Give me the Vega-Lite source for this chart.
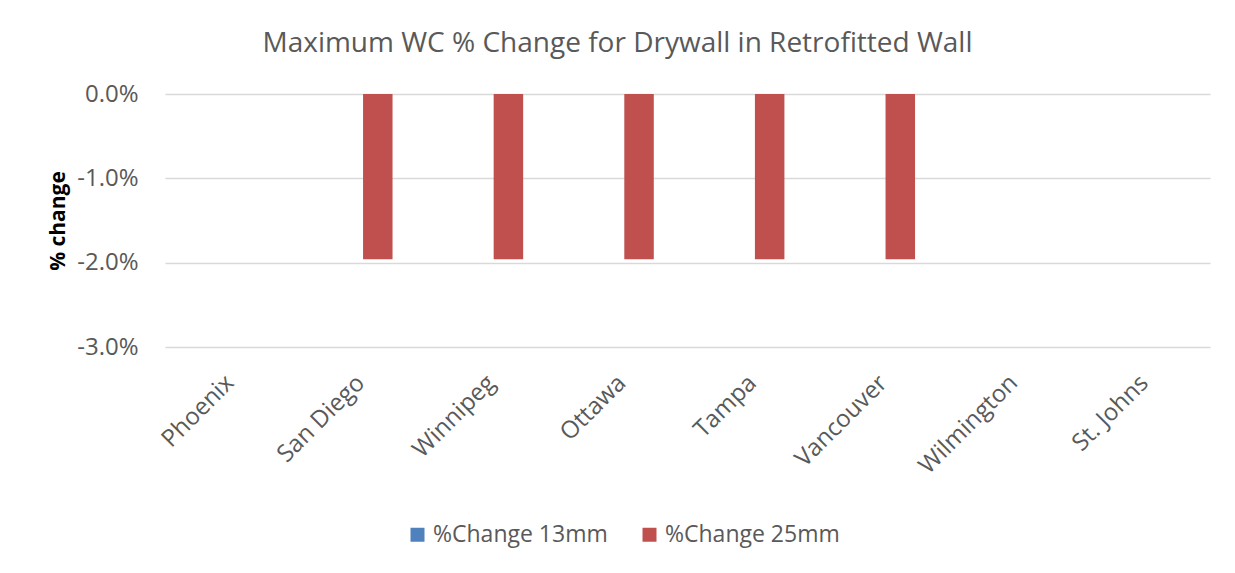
{
  "$schema": "https://vega.github.io/schema/vega-lite/v6.json",
  "width": 1045,
  "height": 253,
  "autosize": "none",
  "padding": {"left": 165, "top": 94, "right": 25, "bottom": 226},
  "background": "white",
  "title": {
    "text": "Maximum WC % Change for Drywall in Retrofitted Wall",
    "font": "Open Sans",
    "fontSize": 28,
    "fontWeight": "normal",
    "color": "#595959",
    "anchor": "middle",
    "frame": "group",
    "dx": -70,
    "dy": 42,
    "baseline": "alphabetic",
    "offset": 44
  },
  "data": {
    "values": [
      {"city": "Phoenix", "series": "%Change 13mm", "value": 0},
      {"city": "Phoenix", "series": "%Change 25mm", "value": 0},
      {"city": "San Diego", "series": "%Change 13mm", "value": 0},
      {"city": "San Diego", "series": "%Change 25mm", "value": -0.0196},
      {"city": "Winnipeg", "series": "%Change 13mm", "value": 0},
      {"city": "Winnipeg", "series": "%Change 25mm", "value": -0.0196},
      {"city": "Ottawa", "series": "%Change 13mm", "value": 0},
      {"city": "Ottawa", "series": "%Change 25mm", "value": -0.0196},
      {"city": "Tampa", "series": "%Change 13mm", "value": 0},
      {"city": "Tampa", "series": "%Change 25mm", "value": -0.0196},
      {"city": "Vancouver", "series": "%Change 13mm", "value": 0},
      {"city": "Vancouver", "series": "%Change 25mm", "value": -0.0196},
      {"city": "Wilmington", "series": "%Change 13mm", "value": 0},
      {"city": "Wilmington", "series": "%Change 25mm", "value": 0},
      {"city": "St. Johns", "series": "%Change 13mm", "value": 0},
      {"city": "St. Johns", "series": "%Change 25mm", "value": 0}
    ]
  },
  "mark": {"type": "bar"},
  "encoding": {
    "x": {
      "field": "city",
      "type": "nominal",
      "sort": null,
      "scale": {"paddingInner": 0, "paddingOuter": 0},
      "axis": {
        "title": null,
        "domain": false,
        "ticks": false,
        "labelAngle": -45,
        "labelAlign": "right",
        "labelBaseline": "middle",
        "labelPadding": 32,
        "labelFont": "Open Sans",
        "labelFontSize": 24,
        "labelColor": "#595959"
      }
    },
    "xOffset": {
      "field": "series",
      "type": "nominal",
      "sort": null,
      "scale": {"paddingInner": 0.125, "paddingOuter": 1.1}
    },
    "y": {
      "field": "value",
      "type": "quantitative",
      "scale": {"domain": [-0.03, 0], "nice": false},
      "axis": {
        "title": "% change",
        "titleFont": "Open Sans",
        "titleFontSize": 21,
        "titleFontWeight": "bold",
        "titleColor": "#000000",
        "titlePadding": 8,
        "values": [0, -0.01, -0.02, -0.03],
        "labelExpr": "replace(format(datum.value, '.1%'), '\u2212', '-')",
        "domain": false,
        "ticks": false,
        "grid": true,
        "gridColor": "#D9D9D9",
        "gridWidth": 1.5,
        "labelPadding": 27,
        "labelFont": "Open Sans",
        "labelFontSize": 24,
        "labelColor": "#595959"
      }
    },
    "color": {
      "field": "series",
      "type": "nominal",
      "scale": {"domain": ["%Change 13mm", "%Change 25mm"], "range": ["#4F81BD", "#C0504D"]},
      "legend": {
        "title": null,
        "orient": "none",
        "legendX": 241,
        "legendY": 429,
        "direction": "horizontal",
        "symbolType": "square",
        "symbolSize": 196,
        "symbolStrokeWidth": 0,
        "labelFont": "Open Sans",
        "labelFontSize": 23,
        "labelColor": "#595959",
        "labelOffset": 4,
        "labelLimit": 400,
        "columnPadding": 30,
        "padding": 0
      }
    }
  },
  "config": {"view": {"stroke": null}}
}
